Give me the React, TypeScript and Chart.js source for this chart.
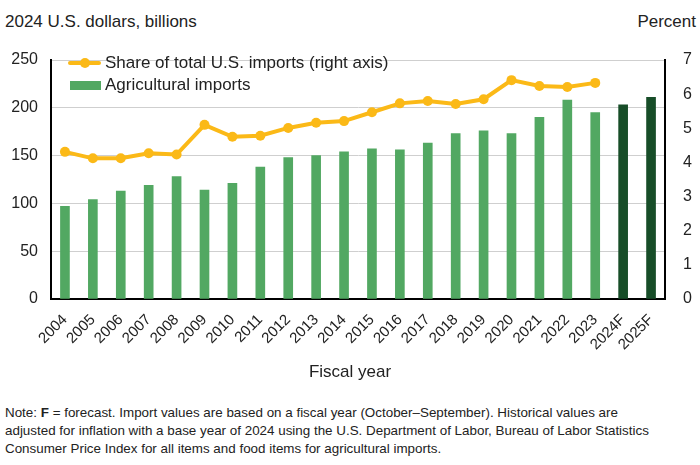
import React, { useEffect, useRef } from "react";
import { Chart, registerables } from "chart.js";

Chart.register(...registerables);

const categories = [
  "2004", "2005", "2006", "2007", "2008", "2009", "2010", "2011", "2012", "2013", "2014",
  "2015", "2016", "2017", "2018", "2019", "2020", "2021", "2022", "2023", "2024F", "2025F",
];
const agriculturalImports = [
  97, 104, 113, 119, 128, 114, 121, 138, 148, 150, 154,
  157, 156, 163, 173, 176, 173, 190, 208, 195, 203, 211,
];
const shareOfImports = [
  4.31, 4.12, 4.12, 4.27, 4.23, 5.1, 4.75, 4.78, 5.01, 5.16, 5.21,
  5.47, 5.73, 5.8, 5.71, 5.85, 6.41, 6.24, 6.21, 6.33, null, null,
];
const leftTicks = [0, 50, 100, 150, 200, 250];
const rightTicks = [0, 1, 2, 3, 4, 5, 6, 7];

const LIGHT_GREEN = "#52a862";
const DARK_GREEN = "#174d28";
const GOLD = "#fbb917";
const FONT = "'Liberation Sans', Arial, sans-serif";

export default function App() {
  const ref = useRef<HTMLCanvasElement | null>(null);

  useEffect(() => {
    if (!ref.current) return;
    const barColors = categories.map((c) => (c.endsWith("F") ? DARK_GREEN : LIGHT_GREEN));
    const chart = new Chart(ref.current, {
      data: {
        labels: categories,
        datasets: [
          {
            type: "line",
            label: "Share of total U.S. imports (right axis)",
            data: shareOfImports,
            yAxisID: "y1",
            borderColor: GOLD,
            backgroundColor: GOLD,
            borderWidth: 4,
            pointRadius: 5,
            pointHoverRadius: 5,
            pointBorderWidth: 0,
            pointBackgroundColor: GOLD,
            spanGaps: false,
            order: 0,
          },
          {
            type: "bar",
            label: "Agricultural imports",
            data: agriculturalImports,
            yAxisID: "y",
            backgroundColor: barColors,
            barThickness: 9,
            order: 1,
          },
        ],
      },
      options: {
        responsive: false,
        animation: false,
        layout: { padding: { top: 60, left: 0, right: 0, bottom: 0 } },
        plugins: { legend: { display: false }, tooltip: { enabled: false } },
        scales: {
          x: {
            grid: { display: false },
            border: { display: true, color: "#000", width: 2 },
            ticks: {
              color: "#222",
              font: { family: FONT, size: 15 },
              maxRotation: 45,
              minRotation: 45,
              autoSkip: false,
              padding: 4,
            },
            afterFit: (s: any) => {
              s.height = 91;
            },
          },
          y: {
            position: "left",
            min: 0,
            max: 250,
            afterBuildTicks: (s: any) => {
              s.ticks = leftTicks.map((v) => ({ value: v }));
            },
            grid: { color: "#cfcfcf", lineWidth: 1, drawTicks: false },
            border: { display: true, color: "#000", width: 2 },
            ticks: {
              color: "#222",
              font: { family: FONT, size: 16 },
              padding: 13,
            },
            afterFit: (s: any) => {
              s.width = 51;
            },
          },
          y1: {
            position: "right",
            min: 0,
            max: 7,
            afterBuildTicks: (s: any) => {
              s.ticks = rightTicks.map((v) => ({ value: v }));
            },
            grid: { display: false, drawOnChartArea: false },
            border: { display: true, color: "#000", width: 2 },
            ticks: {
              color: "#222",
              font: { family: FONT, size: 16 },
              padding: 10,
            },
            afterFit: (s: any) => {
              s.width = 35;
            },
          },
        },
      },
    });
    return () => chart.destroy();
  }, []);

  return (
    <div
      style={{
        position: "fixed",
        left: 0,
        top: 0,
        width: 700,
        height: 465,
        background: "#fff",
        fontFamily: FONT,
        color: "#222",
        overflow: "hidden",
      }}
    >
      <div style={{ position: "absolute", left: 5, top: 12, fontSize: 17 }}>
        2024 U.S. dollars, billions
      </div>
      <div style={{ position: "absolute", right: 4, top: 12, fontSize: 17 }}>Percent</div>
      <canvas ref={ref} width={700} height={390} style={{ position: "absolute", left: 0, top: 0 }} />
      {/* legend */}
      <div style={{ position: "absolute", left: 68, top: 52, width: 360, height: 45 }}>
        <div style={{ position: "absolute", left: 0, top: 9, width: 33, height: 4, background: GOLD, borderRadius: 2 }} />
        <div style={{ position: "absolute", left: 12, top: 6, width: 10, height: 10, background: GOLD, borderRadius: 5 }} />
        <div style={{ position: "absolute", left: 37, top: 1, fontSize: 17, whiteSpace: "nowrap" }}>
          Share of total U.S. imports (right axis)
        </div>
        <div style={{ position: "absolute", left: 2, top: 29, width: 31, height: 9, background: LIGHT_GREEN }} />
        <div style={{ position: "absolute", left: 37, top: 23, fontSize: 17, whiteSpace: "nowrap" }}>
          Agricultural imports
        </div>
      </div>
      <div style={{ position: "absolute", left: 0, width: 700, top: 362, textAlign: "center", fontSize: 17 }}>
        Fiscal year
      </div>
      <div
        style={{
          position: "absolute",
          left: 5,
          top: 404,
          width: 695,
          fontFamily: FONT,
          fontSize: 13.4,
          lineHeight: "18px",
          color: "#222",
          whiteSpace: "nowrap",
        }}
      >
        Note: <b>F</b> = forecast. Import values are based on a fiscal year (October–September). Historical values are
        <br />
        adjusted for inflation with a base year of 2024 using the U.S. Department of Labor, Bureau of Labor Statistics
        <br />
        Consumer Price Index for all items and food items for agricultural imports.
      </div>
    </div>
  );
}
